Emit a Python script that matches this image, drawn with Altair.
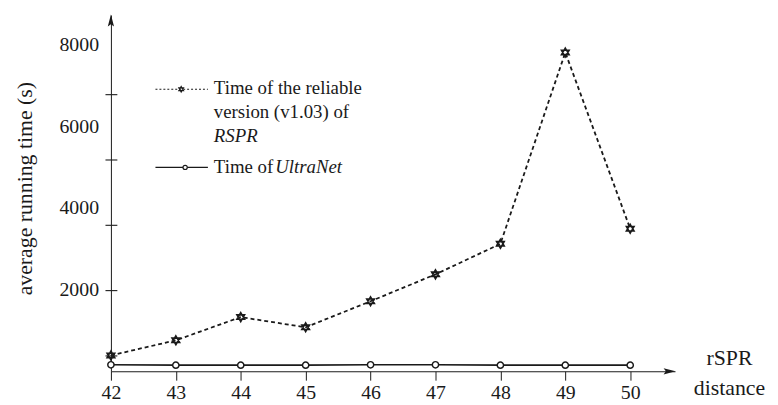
import altair as alt
import pandas as pd

# ---- data ----
distance = [42, 43, 44, 45, 46, 47, 48, 49, 50]
rspr_time = [390, 760, 1330, 1080, 1720, 2380, 3130, 7830, 3500]
ultranet_time = [160, 150, 150, 150, 160, 160, 150, 150, 150]

y_label_values = [2000, 4000, 6000, 8000]
y_tick_values = [400, 800, 1200, 1600, 2000, 2400, 2800, 3200, 3600, 4000,
                 4400, 4800, 5200, 5600, 6000, 6400, 6800, 7200, 7600, 8000]

legend_rspr_lines = ["Time of the reliable", "version (v1.03) of"]
legend_rspr_italic = "RSPR"
legend_ultra_plain = "Time of"
legend_ultra_italic = "UltraNet"
y_title = "average running time (s)"
x_title_lines = ["rSPR", "distance"]

FONT = "Liberation Serif"
INK = "#1a1a1a"

df = pd.DataFrame({"distance": distance, "rspr": rspr_time, "ultra": ultranet_time})
ylab_df = pd.DataFrame({"lv": y_label_values})

x_scale = alt.Scale(domain=[42, 50.69], nice=False, zero=False)
y_scale = alt.Scale(domain=[0, 8750], nice=False)

HEXAGRAM = "M0,-1L0.866,0.5L-0.866,0.5Z M0,1L0.866,-0.5L-0.866,-0.5Z"
ARROW_UP = "M0,-1L0.42,0.6L0,0.3L-0.42,0.6Z"
ARROW_RIGHT = "M1,0L-0.6,0.42L-0.3,0L-0.6,-0.42Z"

x_enc = alt.X("distance:Q", scale=x_scale,
              axis=alt.Axis(values=distance, format="d", tickSize=9, tickColor=INK,
                            domainColor=INK, labelFont=FONT, labelFontSize=20,
                            labelColor=INK, labelPadding=3, labelFlush=False,
                            grid=False, title=None))
# y axis: ticks every 400 that cross the axis (outer part = axis ticks,
# inner part = a short dash at the start of each grid line); labels drawn as a layer
y_enc = alt.Y("rspr:Q", scale=y_scale,
              axis=alt.Axis(values=y_tick_values, labels=False, ticks=True, tickSize=6,
                            tickColor=INK, tickWidth=1.1,
                            grid=True, gridDash=[6, 2000], gridColor=INK,
                            gridWidth=1.1, gridOpacity=1,
                            domainColor=INK,
                            title=y_title, titleFont=FONT, titleFontSize=22,
                            titleFontWeight="normal", titleColor=INK,
                            titleAngle=-90, titleX=-87, titleY=175,
                            titleAlign="center", titleBaseline="middle"))

base = alt.Chart(df)

rspr_line = base.mark_line(color=INK, strokeDash=[4, 3], strokeWidth=1.8).encode(
    x=x_enc, y=y_enc)
rspr_pts = base.mark_point(shape=HEXAGRAM, filled=True, fill="white", stroke=INK,
                           strokeWidth=1.6, size=80, opacity=1).encode(
    x=alt.X("distance:Q", scale=x_scale), y=alt.Y("rspr:Q", scale=y_scale))

ultra_line = base.mark_line(color=INK, strokeWidth=1.6).encode(
    x=alt.X("distance:Q", scale=x_scale), y=alt.Y("ultra:Q", scale=y_scale))
ultra_pts = base.mark_point(shape="circle", filled=True, fill="white", stroke=INK,
                            strokeWidth=1.5, size=40, opacity=1).encode(
    x=alt.X("distance:Q", scale=x_scale), y=alt.Y("ultra:Q", scale=y_scale))

y_labels = alt.Chart(ylab_df).mark_text(align="right", baseline="middle", font=FONT,
                                        fontSize=20, color=INK).encode(
    y=alt.Y("lv:Q", scale=y_scale), x=alt.value(-12),
    text=alt.Text("lv:Q", format="d"))

one = pd.DataFrame({"k": [0]})
arrow_up = alt.Chart(one).mark_point(shape=ARROW_UP, filled=True, fill=INK,
                                     strokeWidth=0, size=225, opacity=1).encode(
    x=alt.value(0), y=alt.value(7))
arrow_right = alt.Chart(one).mark_point(shape=ARROW_RIGHT, filled=True, fill=INK,
                                        strokeWidth=0, size=225, opacity=1).encode(
    x=alt.value(563), y=alt.value(360))


def text_layer(txt, x, y, size=19, align="left", style="normal"):
    return alt.Chart(pd.DataFrame({"t": [txt]})).mark_text(
        align=align, baseline="middle", font=FONT, fontSize=size,
        fontStyle=style, color=INK).encode(text="t:N", x=alt.value(x), y=alt.value(y))


# legend
leg_rule1 = alt.Chart(one).mark_rule(color=INK, strokeDash=[2, 2], strokeWidth=1.2).encode(
    x=alt.value(45), x2=alt.value(98), y=alt.value(75))
leg_star = alt.Chart(one).mark_point(shape=HEXAGRAM, filled=True, fill="white", stroke=INK,
                                     strokeWidth=1.2, size=30, opacity=1).encode(
    x=alt.value(71), y=alt.value(75))
leg_rule2 = alt.Chart(one).mark_rule(color=INK, strokeWidth=1.4).encode(
    x=alt.value(45), x2=alt.value(98), y=alt.value(154))
leg_circ = alt.Chart(one).mark_point(shape="circle", filled=True, fill="white", stroke=INK,
                                     strokeWidth=1.2, size=18, opacity=1).encode(
    x=alt.value(75), y=alt.value(154))

legend_texts = [
    text_layer(legend_rspr_lines[0], 104, 74),
    text_layer(legend_rspr_lines[1], 104, 98),
    text_layer(legend_rspr_italic, 104, 122, style="italic"),
    text_layer(legend_ultra_plain, 104, 154),
    text_layer(legend_ultra_italic, 166, 154, style="italic"),
]

x_title_texts = [
    text_layer(x_title_lines[0], 625, 347, size=22, align="center"),
    text_layer(x_title_lines[1], 625, 377, size=22, align="center"),
]

chart = alt.layer(
    rspr_line, ultra_line, ultra_pts, rspr_pts, arrow_up, arrow_right, y_labels,
    leg_rule1, leg_star, leg_rule2, leg_circ, *legend_texts, *x_title_texts
).properties(
    width=570, height=360,
    autosize=alt.AutoSizeParams(type="none"),
    padding={"left": 104, "top": 5, "right": 96, "bottom": 32},
    background="white",
).configure_view(stroke=None)

chart.save("out.html", embed_options={"renderer": "svg", "actions": False})
